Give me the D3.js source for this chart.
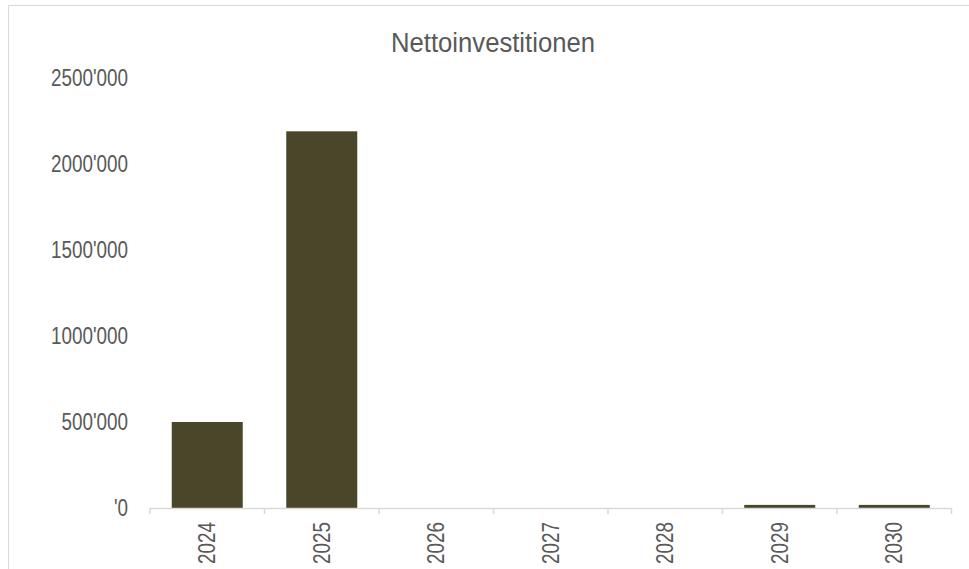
<!DOCTYPE html>
<html>
<head>
<meta charset="utf-8">
<script src="https://cdn.jsdelivr.net/npm/d3@7"></script>
<style>
    body { margin: 0; background: #fff; }
    text { font-family: "Liberation Sans Narrow", "Arial Narrow", "Liberation Sans", sans-serif; fill: #595959; }
</style>
</head>
<body>
<div id="chart"></div>
<script>
// chart data
var years = ["2024", "2025", "2026", "2027", "2028", "2029", "2030"];
var investments = [500000, 2190000, 0, 0, 0, 18000, 18000];
var yTicks = [0, 500000, 1000000, 1500000, 2000000, 2500000];

var svgWidth = 969;
var svgHeight = 569;

// narrow look (Arial Narrow is not installed)
var narrow = 0.82;

var svg = d3.select("#chart")
    .append("svg")
    .attr("width", svgWidth)
    .attr("height", svgHeight);

// outer frame
svg.append("rect")
    .attr("x", 8.5)
    .attr("y", 5.5)
    .attr("width", 980)
    .attr("height", 600)
    .attr("fill", "#fff")
    .attr("stroke", "#d9d9d9");

var plotLeft = 150, plotRight = 951.5, plotTop = 78, plotBottom = 508;

var xScale = d3.scaleBand()
    .domain(years)
    .range([plotLeft, plotRight])
    .paddingInner(0.38)
    .paddingOuter(0.19);

var yScale = d3.scaleLinear()
    .domain([0, 2500000])
    .range([plotBottom, plotTop]);

function fmt(v) {
    return v === 0 ? "'0" : (v / 1000) + "'000";
}

// y labels
var leftAxis = d3.axisLeft(yScale)
    .tickValues(yTicks)
    .tickFormat(fmt)
    .tickSize(0)
    .tickPadding(0);

var yAxis = svg.append("g")
    .attr("transform", "translate(128,0)")
    .call(leftAxis);
yAxis.select(".domain").remove();
yAxis.selectAll("text")
    .attr("font-size", 23)
    .attr("fill", "#595959")
    .attr("transform", `scale(${narrow},1)`);
yAxis.attr("font-family", null);

// bars
svg.selectAll("rect.bar")
    .data(investments)
    .enter()
    .append("rect")
    .classed("bar", true)
    .attr("x", (d, i) => xScale(years[i]))
    .attr("y", d => yScale(d))
    .attr("width", xScale.bandwidth())
    .attr("height", d => plotBottom - yScale(d))
    .attr("fill", "#4a4629");

// x axis line and ticks at category boundaries
var step = xScale.step();
svg.append("line")
    .attr("x1", plotLeft).attr("x2", plotRight)
    .attr("y1", plotBottom + 0.5).attr("y2", plotBottom + 0.5)
    .attr("stroke", "#d9d9d9")
    .attr("stroke-width", 1.5);

svg.selectAll("line.tick")
    .data(d3.range(years.length + 1))
    .enter()
    .append("line")
    .classed("tick", true)
    .attr("x1", i => plotLeft + i * step)
    .attr("x2", i => plotLeft + i * step)
    .attr("y1", plotBottom)
    .attr("y2", plotBottom + 6)
    .attr("stroke", "#d9d9d9")
    .attr("stroke-width", 1.5);

// x labels
svg.selectAll("text.xlab")
    .data(years)
    .enter()
    .append("text")
    .classed("xlab", true)
    .attr("transform", d => `translate(${xScale(d) + xScale.bandwidth() / 2}, 522) rotate(-90) scale(${narrow},1)`)
    .attr("dy", "0.35em")
    .attr("text-anchor", "end")
    .attr("font-size", 23)
    .text(d => d);

// title
svg.append("text")
    .attr("transform", "translate(493,52) scale(0.9,1)")
    .attr("text-anchor", "middle")
    .attr("font-size", 28.5)
    .text("Nettoinvestitionen");
</script>
</body>
</html>
